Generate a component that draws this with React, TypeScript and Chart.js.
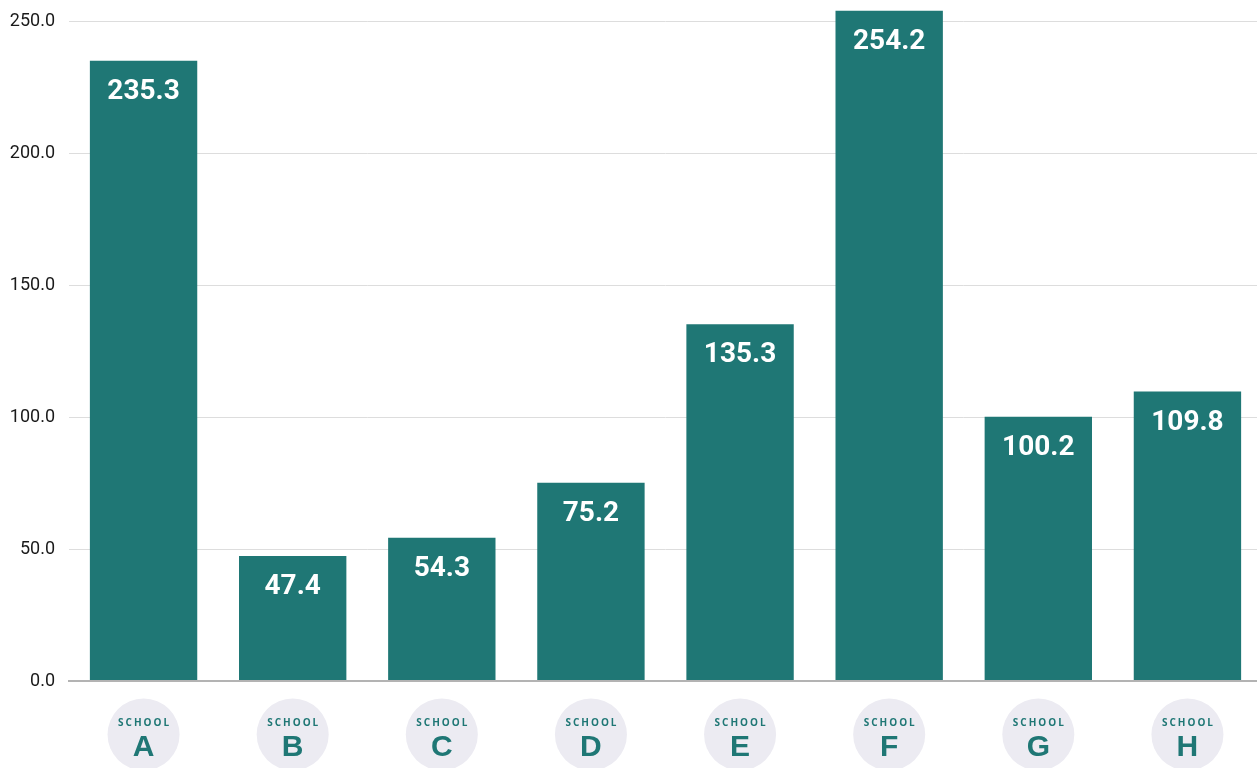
import React, { useEffect, useRef } from "react";
import { Chart, registerables } from "chart.js";

Chart.register(...registerables);

// Scores per school
const schools = ["A", "B", "C", "D", "E", "F", "G", "H"];
const scores = [235.3, 47.4, 54.3, 75.2, 135.3, 254.2, 100.2, 109.8];
const yTicks = [0, 50, 100, 150, 200, 250];

const TEAL = "#1f7775";
const BADGE = "#ecebf2";
// The y axis reserves room above the plot for its top label; the canvas is
// lifted by that amount so the plot starts at the top of the page.
const TOP_SHIFT = 24;

// White value labels inside the top of each bar
const valueLabels = {
  id: "valueLabels",
  afterDatasetsDraw(chart: any) {
    const ctx = chart.ctx;
    const meta = chart.getDatasetMeta(0);
    ctx.save();
    ctx.fillStyle = "#ffffff";
    ctx.font = "bold 28px Roboto";
    ctx.textAlign = "center";
    ctx.textBaseline = "alphabetic";
    meta.data.forEach((bar: any, i: number) => {
      ctx.fillText(scores[i].toFixed(1), bar.x, bar.y + 38);
    });
    ctx.restore();
  },
};

// Round "SCHOOL X" badges under each category
const schoolBadges = {
  id: "schoolBadges",
  afterDraw(chart: any) {
    const ctx = chart.ctx;
    const xScale = chart.scales.x;
    const bottom = chart.chartArea.bottom;
    ctx.save();
    schools.forEach((name, i) => {
      const cx = xScale.getPixelForValue(i);
      const cy = bottom + 53.5;
      ctx.beginPath();
      ctx.arc(cx, cy, 36, 0, Math.PI * 2);
      ctx.fillStyle = BADGE;
      ctx.fill();
      ctx.fillStyle = TEAL;
      ctx.textAlign = "center";
      ctx.textBaseline = "alphabetic";
      ctx.font = "bold 10px 'Open Sans'";
      (ctx as any).letterSpacing = "2px";
      ctx.fillText("SCHOOL", cx + 1, bottom + 44.5);
      (ctx as any).letterSpacing = "0px";
      ctx.font = "bold 30px 'Liberation Sans'";
      ctx.fillText(name, cx, bottom + 75);
    });
    ctx.restore();
  },
};

export default function App() {
  const canvasRef = useRef<HTMLCanvasElement | null>(null);

  useEffect(() => {
    if (!canvasRef.current) return;
    const chart = new Chart(canvasRef.current, {
      type: "bar",
      data: {
        labels: schools,
        datasets: [
          {
            data: scores,
            backgroundColor: TEAL,
            borderWidth: 0,
          },
        ],
      },
      options: {
        animation: false,
        responsive: false,
        maintainAspectRatio: false,
        layout: { padding: 0 },
        plugins: {
          legend: { display: false },
          tooltip: { enabled: false },
        },
        scales: {
          x: {
            grid: { display: false },
            border: { display: true, color: "#b3b3b3", width: 2 },
            ticks: { display: false },
            afterFit(scale: any) {
              scale.height = 87;
            },
          },
          y: {
            min: 0,
            max: 258,
            border: { display: false },
            grid: {
              color: (c: any) => (c.tick && c.tick.value === 0 ? "#b3b3b3" : "#dddddd"),
              lineWidth: (c: any) => (c.tick && c.tick.value === 0 ? 2 : 1),
              drawTicks: false,
            },
            ticks: {
              includeBounds: false,
              padding: 14,
              color: "#1a1a1a",
              font: { family: "Roboto", size: 18 },
              callback: (v: any) => Number(v).toFixed(1),
            },
            afterBuildTicks(scale: any) {
              scale.ticks = yTicks.map((v) => ({ value: v }));
            },
            afterFit(scale: any) {
              scale.width = 69;
            },
          },
        },
      },
      plugins: [valueLabels, schoolBadges],
    });
    return () => chart.destroy();
  }, []);

  return (
    <div
      style={{
        position: "absolute",
        left: 0,
        top: 0,
        width: 1257,
        height: 768,
        overflow: "hidden",
        background: "#ffffff",
      }}
    >
      <canvas
        ref={canvasRef}
        width={1262}
        height={768 + TOP_SHIFT}
        style={{ display: "block", marginTop: -TOP_SHIFT }}
      />
    </div>
  );
}
